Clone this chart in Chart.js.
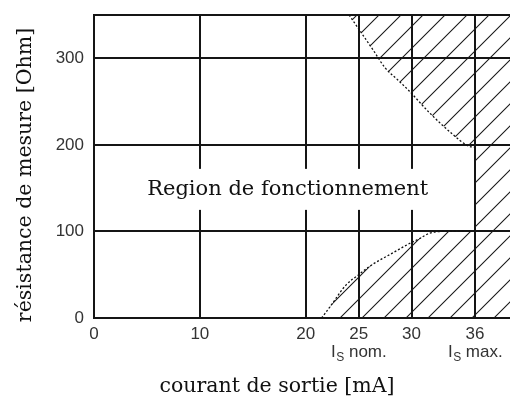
<!DOCTYPE html>
<html lang="fr">
<head>
<meta charset="utf-8">
<title>Région de fonctionnement</title>
<script src="https://cdn.jsdelivr.net/npm/chart.js@4/dist/chart.umd.min.js"></script>
<style>
  html, body { margin: 0; padding: 0; background: #fff; }
  #zona { width: 510px; height: 396px; }
</style>
</head>
<body>
<div id="zona"><canvas id="graficoCarga"></canvas></div>
<script>
// Ejes: marcas de corriente (mA) y de resistencia (Ohm)
const xTicks = [0, 10, 20, 25, 30, 36];
const yTicks = [0, 100, 200, 300, 350];
const xMax = 39.3;
const yMax = 350;
const iNom = 25;
const iMax = 36;

// Límite superior de la carga (curva de arriba)
const curvaSupX = [24.1, 25.0, 26.4, 27.5, 28.7, 29.8, 31.7, 33.9, 35.3, 36.0];
const curvaSupY = [350, 334, 309, 289, 275, 262, 237, 212, 199, 197];

// Límite inferior (curva de abajo)
const curvaInfX = [21.5, 22.3, 23.8, 25.0, 26.2, 27.9, 29.8, 30.8, 31.7, 33.0, 36.0];
const curvaInfY = [0, 13, 38, 50, 61, 73, 86, 92, 98, 100, 100];

// Textos
const etiquetaZona = 'Region de fonctionnement';
const zonaX = 18.3, zonaY = 148;
const tituloX = 'courant de sortie [mA]';
const tituloY = 'résistance de mesure [Ohm]';

const puntos = (xs, ys) => xs.map((v, i) => ({ x: v, y: ys[i] }));

// Trama de rayas diagonales para las zonas prohibidas
function crearTrama() {
  const paso = 22;
  const c = document.createElement('canvas');
  c.width = paso; c.height = paso;
  const g = c.getContext('2d');
  g.strokeStyle = '#1a1a1a';
  g.lineWidth = 1.1;
  g.beginPath();
  [20 - paso, 20, 20 + paso].forEach(k => {
    g.moveTo(-4, k + 4);
    g.lineTo(paso + 4, k - paso - 4);
  });
  g.stroke();
  return g.createPattern(c, 'repeat');
}
const trama = crearTrama();

// Títulos, recuadro central y etiquetas Is nom. / Is max.
const textos = {
  id: 'textos',
  afterDatasetsDraw(chart) {
    const { ctx, scales: { x, y } } = chart;
    ctx.save();

    ctx.font = '21px "DejaVu Serif"';
    const ancho = ctx.measureText(etiquetaZona).width;
    const cx = x.getPixelForValue(zonaX);
    const cy = y.getPixelForValue(zonaY);
    ctx.fillStyle = '#fff';
    ctx.fillRect(cx - ancho / 2 - 10, cy - 21, ancho + 22, 41);
    ctx.fillStyle = '#111';
    ctx.textAlign = 'center';
    ctx.textBaseline = 'middle';
    ctx.fillText(etiquetaZona, cx, cy);

    // Etiquetas bajo las marcas 25 y 36
    [[iNom, ' nom.'], [iMax, ' max.']].forEach(([v, txt]) => {
      ctx.textAlign = 'left';
      ctx.textBaseline = 'alphabetic';
      ctx.fillStyle = '#333';
      ctx.font = '17px "Liberation Sans"';
      const wI = ctx.measureText('I').width;
      const wT = ctx.measureText(txt).width;
      ctx.font = '12px "Liberation Sans"';
      const wS = ctx.measureText('S').width;
      let px = x.getPixelForValue(v) - (wI + wS + wT) / 2;
      ctx.font = '17px "Liberation Sans"';
      ctx.fillText('I', px, 357);
      ctx.font = '12px "Liberation Sans"';
      ctx.fillText('S', px + wI + 0.5, 361);
      ctx.font = '17px "Liberation Sans"';
      ctx.fillText(txt, px + wI + wS + 0.5, 357);
    });

    // Títulos de los ejes
    ctx.fillStyle = '#111';
    ctx.font = '20.5px "DejaVu Serif"';
    ctx.textAlign = 'center';
    ctx.textBaseline = 'alphabetic';
    ctx.fillText(tituloX, 277, 392);

    ctx.translate(31, 175);
    ctx.rotate(-Math.PI / 2);
    ctx.fillText(tituloY, 0, 0);
    ctx.restore();
  }
};

const rejilla = { color: '#151515', lineWidth: 2, drawTicks: false };
const borde = { color: '#151515', width: 2 };
const fuenteEje = { family: '"Liberation Sans"', size: 17 };

new Chart(document.getElementById('graficoCarga'), {
  type: 'line',
  data: {
    datasets: [
      {
        data: puntos(curvaSupX, curvaSupY),
        fill: 'end',
        backgroundColor: trama,
        borderColor: '#111',
        borderWidth: 1.3,
        borderDash: [2, 2],
        cubicInterpolationMode: 'monotone',
        pointRadius: 0
      },
      {
        data: puntos(curvaInfX, curvaInfY),
        fill: 'origin',
        backgroundColor: trama,
        borderColor: '#111',
        borderWidth: 1.3,
        borderDash: [2, 2],
        cubicInterpolationMode: 'monotone',
        pointRadius: 0
      },
      {
        data: [{ x: iMax, y: yMax }, { x: xMax, y: yMax }],
        fill: 'origin',
        backgroundColor: trama,
        borderWidth: 0,
        pointRadius: 0
      }
    ]
  },
  options: {
    responsive: true,
    maintainAspectRatio: false,
    animation: false,
    layout: { padding: { top: 15, left: 0, right: 0, bottom: 0 } },
    plugins: { legend: { display: false }, tooltip: { enabled: false } },
    scales: {
      x: {
        type: 'linear',
        min: 0,
        max: xMax,
        afterBuildTicks: s => { s.ticks = xTicks.map(v => ({ value: v })); },
        afterFit: s => { s.height = 78; },
        grid: rejilla,
        border: borde,
        ticks: { color: '#333', font: fuenteEje, padding: 6, maxRotation: 0, autoSkip: false }
      },
      y: {
        min: 0,
        max: yMax,
        afterBuildTicks: s => { s.ticks = yTicks.map(v => ({ value: v })); },
        afterFit: s => { s.width = 94; s.paddingTop = 0; },
        grid: rejilla,
        border: borde,
        ticks: {
          color: '#333',
          font: fuenteEje,
          padding: 10,
          callback: v => (v === yMax ? '' : v)
        }
      }
    }
  },
  plugins: [textos]
});
</script>
</body>
</html>
